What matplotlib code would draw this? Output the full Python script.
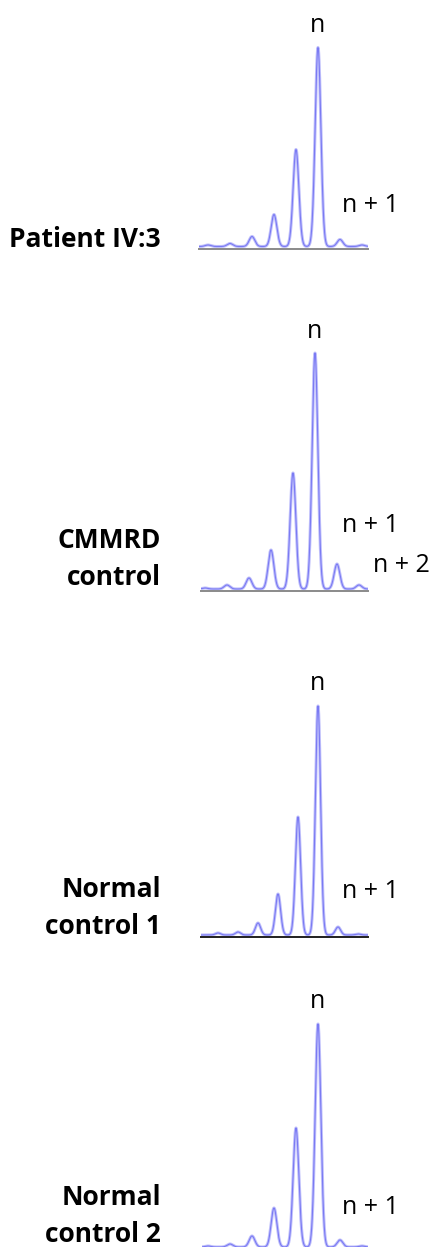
import numpy as np
import matplotlib
matplotlib.use("Agg")
import matplotlib.pyplot as plt

plt.rcParams['font.family'] = ['Open Sans', 'DejaVu Sans']

W, H = 431, 1247

# peak offsets from the main allele n (repeat units)
offsets = [-5, -4, -3, -2, -1, 0, 1, 2]

# relative peak heights
heights_patient = [1.5, 3, 10, 32, 97, 199, 7, 1.5]
heights_cmmrd = [1, 4, 11, 39, 116, 236, 25, 4]
heights_normal1 = [2, 3, 12, 41, 118, 229, 8, 1]
heights_normal2 = [1, 3, 11, 39, 119, 223, 7, 1]

sample_labels = [["Patient IV:3"], ["CMMRD", "control"],
                 ["Normal", "control 1"], ["Normal", "control 2"]]

# extra labels per panel: text, offset (repeat units), height
peak_labels = [
    [("n + 1", 1.09, 43)],
    [("n + 1", 1.23, 66), ("n + 2", 2.64, 25)],
    [("n + 1", 1.2, 45)],
    [("n + 1", 1.09, 41)],
]

# layout in pixels: left, right, position of n, repeat spacing, axis line y
panels = [
    dict(h=heights_patient, x0=199, x1=368, xn=318, sp=22, yb=248.5, axc="#8a8a8a"),
    dict(h=heights_cmmrd, x0=201, x1=368, xn=315, sp=22, yb=591, axc="#8a8a8a"),
    dict(h=heights_normal1, x0=201, x1=368, xn=318, sp=20, yb=937, axc="#202020"),
    dict(h=heights_normal2, x0=202, x1=368, xn=318, sp=22, yb=1249, axc="#202020"),
]
label_baselines = [[247], [548, 585], [897, 934], [1205, 1242]]

fig = plt.figure(figsize=(W / 100, H / 100), dpi=100)

AX_H = 260
for i, p in enumerate(panels):
    left = (p["x0"] - p["xn"]) / p["sp"]
    right = (p["x1"] - p["xn"]) / p["sp"]
    ax = fig.add_axes([p["x0"] / W, 1 - p["yb"] / H,
                       (p["x1"] - p["x0"]) / W, AX_H / H])
    ax.set_xlim(left, right)
    ax.set_ylim(0, AX_H)

    x = np.linspace(left, right, 1200)
    y = np.full_like(x, 2.0)
    for off, hgt in zip(offsets, p["h"]):
        y += hgt * np.exp(-0.5 * ((x - off) / 0.13) ** 2)
    ax.plot(x, y, color="#c0c0fb", lw=2.2, solid_capstyle="butt")
    ax.plot(x, y, color="#7a7af3", lw=0.8)

    for s in ["top", "left", "right"]:
        ax.spines[s].set_visible(False)
    ax.spines["bottom"].set_color(p["axc"])
    ax.spines["bottom"].set_linewidth(1.4)
    ax.set_xticks([])
    ax.set_yticks([])
    ax.patch.set_visible(False)

    top_peak = max(p["h"])
    ax.text(0, top_peak + 24, "n", ha="center", va="center",
            fontsize=18, clip_on=False)
    for txt, xo, yo in peak_labels[i]:
        ax.text(xo, yo, txt, ha="left", va="center", fontsize=18, clip_on=False)

    for line, yl in zip(sample_labels[i], label_baselines[i]):
        fig.text(161 / W, 1 - yl / H, line, ha="right", va="baseline",
                 fontsize=19, fontweight="bold")

fig.savefig("out.png", dpi=100)
